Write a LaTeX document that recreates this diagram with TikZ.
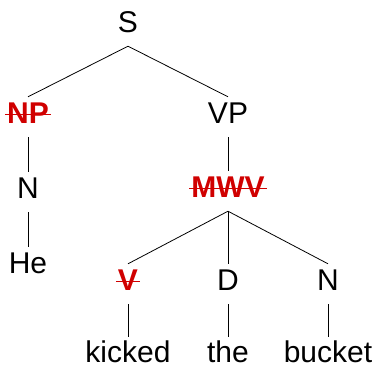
\documentclass[tikz,border=0pt]{standalone}
\usepackage{fontspec}
\setmainfont{Liberation Sans}
\definecolor{strikered}{RGB}{208,0,0}
\begin{document}
\begin{tikzpicture}[x=1pt,y=-1pt,
  cat/.style={anchor=base,font=\fontsize{30}{36}\selectfont,
    text height=21pt,text depth=9pt,inner ysep=5pt,inner xsep=2pt},
  leaf/.style={cat,text height=25pt,text depth=0pt,inner ysep=0pt},
  gone/.style={cat,text=strikered,font=\fontsize{30}{36}\selectfont\bfseries},
  branch/.style={line width=0.8pt,black},
  strike/.style={strikered,line width=1pt}]
\useasboundingbox (0,0) rectangle (378,365);
% tree nodes
\node[cat]  (S)   at (128,32)  {S};
\node[gone] (NP)  at (28,123)  {NP};
\node[cat]  (VP)  at (228,123) {VP};
\node[cat]  (N1)  at (28,198)  {N};
\node[cat]  (He)  at (28,273)  {He};
\node[gone] (MWV) at (228,197) {MWV};
\node[gone] (V)   at (128,290) {V};
\node[cat]  (D)   at (228,290) {D};
\node[cat]  (N2)  at (328,290) {N};
\node[leaf] (kicked) at (128,362) {kicked};
\node[leaf] (the)    at (228,362) {the};
\node[leaf] (bucket) at (328,362) {bucket};
% branches
\draw[branch] (S.south) -- (NP.north);
\draw[branch] (S.south) -- (VP.north);
\draw[branch] (NP.south) -- (N1.north);
\draw[branch] (N1.south) -- (He.north);
\draw[branch] (VP.south) -- (MWV.north);
\draw[branch] (MWV.south) -- (V.north);
\draw[branch] (MWV.south) -- (D.north);
\draw[branch] (MWV.south) -- (N2.north);
\draw[branch] (V.south) -- (kicked.north);
\draw[branch] (D.south) -- (the.north);
\draw[branch] (N2.south) -- (bucket.north);
% struck-out categories
\foreach \n in {NP,MWV,V}
  \draw[strike] ([yshift=8.5pt]\n.base west) -- ([yshift=8.5pt]\n.base east);
\end{tikzpicture}
\end{document}
